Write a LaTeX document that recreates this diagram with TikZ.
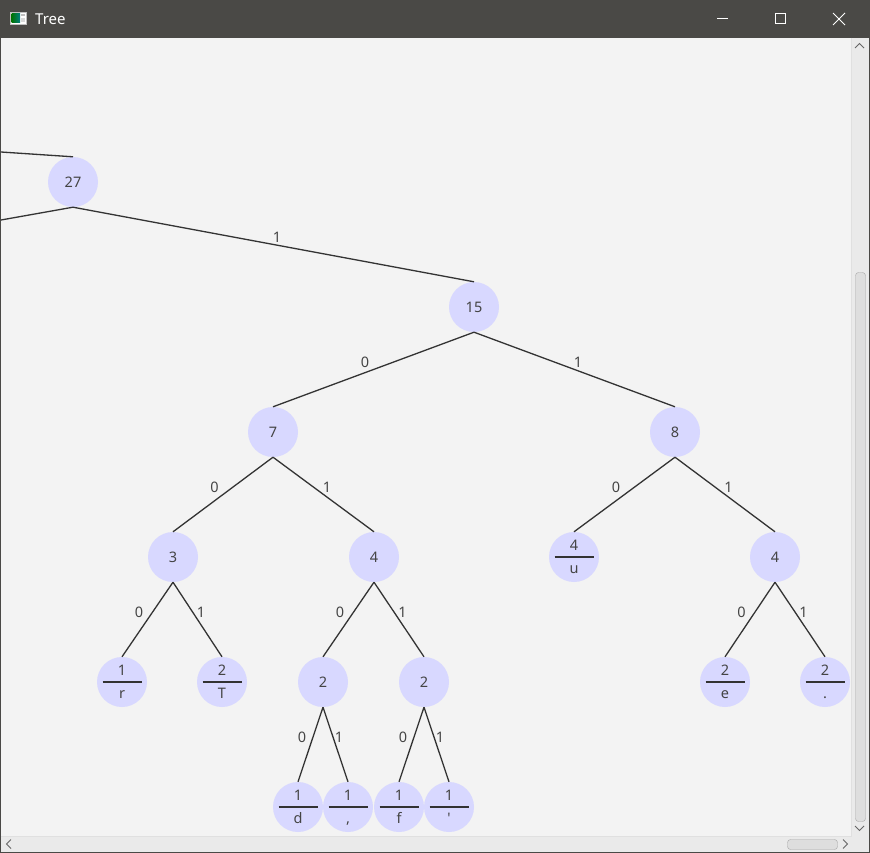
\documentclass[tikz,border=0pt]{standalone}
\usepackage{fontspec}
\setmainfont{Noto Sans}
\usepackage{xcolor}
\usetikzlibrary{positioning}

\definecolor{titlebg}{RGB}{74,73,70}
\definecolor{clientbg}{RGB}{243,243,243}
\definecolor{scrollbg}{RGB}{234,234,234}
\definecolor{nodefill}{RGB}{216,216,255}
\definecolor{textgray}{RGB}{68,68,68}
\definecolor{edgegray}{RGB}{51,51,51}

\begin{document}
\begin{tikzpicture}[
    x=1pt, y=-1pt,
    font=\fontsize{14.5}{16}\selectfont,
    treenode/.style={
        circle, fill=nodefill, minimum size=50pt, inner sep=0pt,
        text=textgray
    },
    leafnode/.style={treenode},
    fracline/.style={line width=1.3pt, edgegray},
    cntlab/.style={inner sep=0pt, text=textgray},
    edgeline/.style={line width=1.3pt, edgegray},
    bitlab/.style={inner sep=0pt, text=textgray, yshift=7pt},
    chevron/.style={line width=0.9pt, black!60},
    winbtn/.style={line width=1pt, white},
]
\useasboundingbox (0,0) rectangle (870,853);

% ---- Window frame ----
\fill[titlebg] (0,0) rectangle (870,853);
\fill[clientbg] (1,38) rectangle (869,852);

% title bar
\node[draw=black!25, fill=white, minimum width=16pt, minimum height=12pt,
      inner sep=0pt] (icon) at (18,18) {};
\shade[left color=green!45!black, right color=cyan!50!black]
      (11.5,13.5) rectangle (20,23);
\fill[black!25] (21,14) rectangle (25,16);
\fill[black!15] (21,18) rectangle (25,22);
\node[text=white, anchor=west, inner sep=0pt, font=\fontsize{15}{16}\selectfont]
      (title) at (35,19) {Tree};
\draw[winbtn] (717,18.5) -- (728,18.5);
\draw[winbtn] (775.5,13.5) rectangle (785.5,23.5);
\draw[winbtn] (833,13) -- (845,25) (845,13) -- (833,25);

% ---- Scroll bars ----
\fill[scrollbg] (852,38) rectangle (869,852);
\fill[scrollbg] (1,836) rectangle (869,852);
\draw[black!12] (851.5,38) -- (851.5,836) -- (1,836);
\draw[black!35, fill=scrollbg!95!black, rounded corners=3pt]
      (855.5,272.5) rectangle (865.5,821.5);
\draw[black!35, fill=scrollbg!95!black, rounded corners=3pt]
      (787.5,839.5) rectangle (837.5,849.5);
\draw[chevron] (855,48) -- (859.5,43.5) -- (864,48);
\draw[chevron] (855,826) -- (859.5,830.5) -- (864,826);
\draw[chevron] (11,839.5) -- (6.5,844) -- (11,848.5);
\draw[chevron] (843,839.5) -- (847.5,844) -- (843,848.5);

% ---- Inner nodes ----
\node[treenode] (n27) at (73,182) {27};
\node[treenode] (n15) at (474,307) {15};
\node[treenode] (n7) at (273,432) {7};
\node[treenode] (n8) at (675,432) {8};
\node[treenode] (n3) at (173,557) {3};
\node[treenode] (n4a) at (374,557) {4};
\node[treenode] (n4b) at (775,557) {4};
\node[treenode] (n2a) at (323,682) {2};
\node[treenode] (n2b) at (424,682) {2};

% ---- Leaves: count over symbol ----
\foreach \nm/\px/\py/\cnt/\chr in {lu/574/557/4/u, lr/122/682/1/r, lT/222/682/2/T,
        le/725/682/2/e, ldot/825/682/2/., ld/298/807/1/d, lcm/348/807/1/{,},
        lf/399/807/1/f, lq/449/807/1/\textquotesingle} {
    \node[leafnode] (\nm) at (\px,\py) {};
    \draw[fracline] ([xshift=-19.5pt]\nm.center) -- ([xshift=19.5pt]\nm.center);
    \node[cntlab, anchor=base] (\nm-cnt) at ([yshift=7pt]\nm.center) {\cnt};
    \node[cntlab, anchor=base] (\nm-chr) at ([yshift=-16pt]\nm.center) {\chr};
}

% ---- Edges off the view ----
\coordinate (offtop) at (1,152);
\coordinate (offbot) at (1,220);
\draw[edgeline] (offtop) -- (n27.north);
\draw[edgeline] (n27.south) -- (offbot);

% ---- Edges: 0 to the left, 1 to the right ----
\foreach \p/\c in {n15/n7, n7/n3, n3/lr, n4a/n2a, n2a/ld, n2b/lf, n8/lu, n4b/le} {
    \draw[edgeline] (\p.south) -- node[bitlab, xshift=-8.5pt] {0} (\c.north);
}
\foreach \p/\c in {n27/n15, n15/n8, n7/n4a, n3/lT, n4a/n2b, n2a/lcm, n2b/lq, n8/n4b, n4b/ldot} {
    \draw[edgeline] (\p.south) -- node[bitlab, xshift=3.5pt] {1} (\c.north);
}

\end{tikzpicture}
\end{document}
